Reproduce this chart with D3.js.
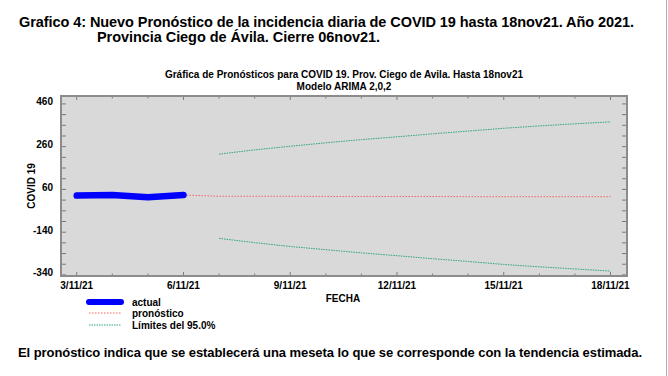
<!DOCTYPE html>
<html>
<head>
<meta charset="utf-8">
<script src="https://cdn.jsdelivr.net/npm/d3@7"></script>
<style>
  body { margin: 0; background: #fff; }
  text { font-family: "Liberation Sans", Arial, sans-serif; font-weight: bold; fill: #000; }
</style>
</head>
<body>
<svg id="chart" width="668" height="376"></svg>
<script>
// observed data (daily), 3/11 .. 6/11
const actualDays = [3, 4, 5, 6];
const actualValues = [21, 24, 13, 24];

// forecast 6/11 .. 18/11
const forecastDays = [6, 7, 8, 9, 10, 11, 12, 13, 14, 15, 16, 17, 18];
const forecastValues = [24, 18, 18, 18, 17, 17, 17, 17, 16, 16, 16, 16, 16];

// 95% limits 7/11 .. 18/11
const limitDays = [7, 8, 9, 10, 11, 12, 13, 14, 15, 16, 17, 18];
const upperValues = [215, 235, 252, 268, 283, 296, 310, 323, 336, 347, 357, 366];
const lowerValues = [-179, -199, -217, -232, -247, -260, -274, -287, -301, -312, -322, -332];

const yMajorTicks = [460, 260, 60, -140, -340];
const xLabelDays = [3, 6, 9, 12, 15, 18];

const legendItems = [
    { label: "actual", color: "#0000ff", width: 6, dash: null },
    { label: "pronóstico", color: "#f56060", width: 1, dash: "1.5,1.5" },
    { label: "Límites del 95.0%", color: "#2fa57a", width: 1, dash: "1.5,1" },
];

const day = (d) => new Date(2021, 10, 1, 0, 0).getTime() + (d - 1) * 864e5;

const svg = d3.select("#chart");
const plot = { left: 61, right: 627, top: 96, bottom: 276 };

const x = d3.scaleTime()
    .domain([new Date(day(2.558)), new Date(day(18.464))])
    .range([plot.left, plot.right]);
const y = d3.scaleLinear().domain([-355, 487]).range([plot.bottom, plot.top]);

// page titles
svg.append("text").attr("x", 19).attr("y", 27).style("font-size", "14.5px")
    .attr("textLength", 615)
    .text("Grafico 4: Nuevo Pronóstico de la incidencia diaria de COVID 19 hasta 18nov21. Año 2021.");
svg.append("text").attr("x", 97).attr("y", 42).style("font-size", "14.5px")
    .attr("textLength", 283)
    .text("Provincia Ciego de Ávila. Cierre 06nov21.");

// right edge line
svg.append("line").attr("x1", 666.5).attr("x2", 666.5).attr("y1", 0).attr("y2", 376)
    .attr("stroke", "#b0b0b0").attr("stroke-width", 1);

// chart titles
svg.append("text").attr("x", 344).attr("y", 77.5).attr("text-anchor", "middle")
    .style("font-size", "10px")
    .text("Gráfica de Pronósticos para COVID 19. Prov. Ciego de Avila. Hasta 18nov21");
svg.append("text").attr("x", 344).attr("y", 90).attr("text-anchor", "middle")
    .style("font-size", "10px").text("Modelo ARIMA 2,0,2");

// plot background
svg.append("rect")
    .attr("x", plot.left).attr("y", plot.top)
    .attr("width", plot.right - plot.left).attr("height", plot.bottom - plot.top)
    .attr("fill", "#d9d9d9");

const g = svg.append("g");

// y ticks (left & right, inward)
const yMinor = d3.range(-350, 487, 50);
yMinor.forEach((v) => {
    const major = yMajorTicks.includes(v);
    const len = major ? 10 : 5;
    g.append("line").attr("x1", plot.left).attr("x2", plot.left + len)
        .attr("y1", y(v)).attr("y2", y(v)).attr("stroke", "#7a7a7a").attr("stroke-width", 1);
    g.append("line").attr("x1", plot.right).attr("x2", plot.right - len)
        .attr("y1", y(v)).attr("y2", y(v)).attr("stroke", "#7a7a7a").attr("stroke-width", 1);
});
yMajorTicks.forEach((v) => {
    svg.append("text").attr("x", 53).attr("y", y(v) + 3.5)
        .attr("text-anchor", "end").style("font-size", "10px").text(v);
});

// x ticks (top & bottom)
d3.range(3, 19).forEach((d) => {
    const xx = x(new Date(day(d)));
    const len = xLabelDays.includes(d) ? 4 : 2.5;
    g.append("line").attr("x1", xx).attr("x2", xx).attr("y1", plot.bottom).attr("y2", plot.bottom - len)
        .attr("stroke", "#7a7a7a");
    g.append("line").attr("x1", xx).attr("x2", xx).attr("y1", plot.top).attr("y2", plot.top + len)
        .attr("stroke", "#7a7a7a");
});
const fmt = d3.timeFormat("%-d/%m/%y");
xLabelDays.forEach((d) => {
    svg.append("text").attr("x", x(new Date(day(d)))).attr("y", 289)
        .attr("text-anchor", "middle").style("font-size", "10px")
        .text(fmt(new Date(day(d))));
});

// axis titles
svg.append("text").attr("transform", "translate(35,186) rotate(-90)")
    .attr("text-anchor", "middle").style("font-size", "10px").text("COVID 19");
svg.append("text").attr("x", 343).attr("y", 301.5).attr("text-anchor", "middle")
    .style("font-size", "10px").text("FECHA");

// series
const line = d3.line()
    .x((d) => x(new Date(day(d[0]))))
    .y((d) => y(d[1]));

g.append("path").datum(d3.zip(limitDays, upperValues))
    .attr("d", line).attr("fill", "none")
    .attr("stroke", legendItems[2].color).attr("stroke-width", 1).attr("stroke-dasharray", legendItems[2].dash);
g.append("path").datum(d3.zip(limitDays, lowerValues))
    .attr("d", line).attr("fill", "none")
    .attr("stroke", legendItems[2].color).attr("stroke-width", 1).attr("stroke-dasharray", legendItems[2].dash);
g.append("path").datum(d3.zip(forecastDays, forecastValues))
    .attr("d", line).attr("fill", "none")
    .attr("stroke", legendItems[1].color).attr("stroke-width", 1).attr("stroke-dasharray", legendItems[1].dash);
g.append("path").datum(d3.zip(actualDays, actualValues))
    .attr("d", line).attr("fill", "none")
    .attr("stroke", legendItems[0].color).attr("stroke-width", 6.5)
    .attr("stroke-linecap", "round").attr("stroke-linejoin", "round");

// frame
svg.append("rect")
    .attr("x", plot.left).attr("y", plot.top)
    .attr("width", plot.right - plot.left).attr("height", plot.bottom - plot.top)
    .attr("fill", "none").attr("stroke", "#8c8c8c").attr("stroke-width", 2);

// legend
const lg = svg.append("g");
const legendY = [302, 313, 325];
legendItems.forEach((it, i) => {
    const ly = legendY[i];
    lg.append("line").attr("x1", 89).attr("x2", 121).attr("y1", ly).attr("y2", ly)
        .attr("stroke", it.color).attr("stroke-width", it.width)
        .attr("stroke-linecap", it.dash ? "butt" : "round")
        .attr("stroke-dasharray", it.dash);
    lg.append("text").attr("x", 132).attr("y", ly + 3.5).style("font-size", "10px").text(it.label);
});

// footer note
svg.append("text").attr("x", 18).attr("y", 357).style("font-size", "13px")
    .attr("textLength", 624)
    .text("El pronóstico indica que se establecerá una meseta lo que se corresponde con la tendencia estimada.");
</script>
</body>
</html>
